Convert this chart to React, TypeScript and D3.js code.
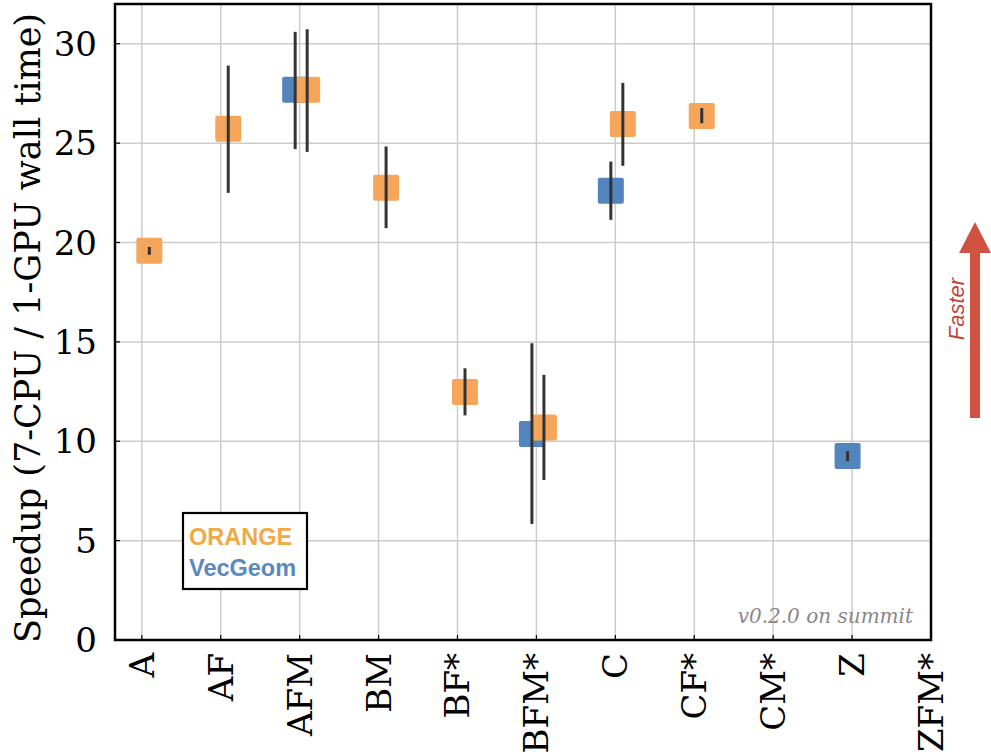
import React from "react";
import * as d3 from "d3";

const categories = ["A", "AF", "AFM", "BM", "BF*", "BFM*", "C", "CF*", "CM*", "Z", "ZFM*"];
const yTicks = [0, 5, 10, 15, 20, 25, 30];

// [category, mean, low, high]
const orangeData: [string, number, number, number][] = [
  ["A", 19.58, 19.38, 19.78],
  ["AF", 25.72, 22.5, 28.9],
  ["AFM", 27.68, 24.56, 30.73],
  ["BM", 22.76, 20.72, 24.83],
  ["BF*", 12.48, 11.3, 13.67],
  ["BFM*", 10.69, 8.05, 13.34],
  ["C", 25.96, 23.86, 28.03],
  ["CF*", 26.37, 26.0, 26.76],
];
const vecgeomData: [string, number, number, number][] = [
  ["AFM", 27.68, 24.7, 30.6],
  ["BFM*", 10.37, 5.84, 14.93],
  ["C", 22.6, 21.14, 24.07],
  ["Z", 9.26, 9.0, 9.5],
];

const ORANGE = "#f5a65b";
const BLUE = "#5384bd";
const SERIF = "'DejaVu Serif', serif";
const SANS = "'Liberation Sans', Arial, sans-serif";

export default function App() {
  const width = 991;
  const height = 756;
  const plot = { left: 115, right: 931, top: 4, bottom: 640 };

  const x = d3.scaleLinear().domain([-0.34, 10]).range([plot.left, plot.right]);
  const y = d3.scaleLinear().domain([0, 32]).range([plot.bottom, plot.top]);

  const size = 26;
  const fs = 34;

  const series = [
    { data: vecgeomData, color: BLUE, dx: -4.5 },
    { data: orangeData, color: ORANGE, dx: 7.5 },
  ];

  const arrowX = 975;
  const arrowBottom = 418;
  const arrowTop = 222;
  const headH = 31;
  const headW = 16;
  const shaftW = 5;
  const arrowPath = d3.path();
  arrowPath.moveTo(arrowX - shaftW, arrowBottom);
  arrowPath.lineTo(arrowX - shaftW, arrowTop + headH);
  arrowPath.lineTo(arrowX - headW, arrowTop + headH);
  arrowPath.lineTo(arrowX, arrowTop);
  arrowPath.lineTo(arrowX + headW, arrowTop + headH);
  arrowPath.lineTo(arrowX + shaftW, arrowTop + headH);
  arrowPath.lineTo(arrowX + shaftW, arrowBottom);
  arrowPath.closePath();

  return (
    <svg
      width={width}
      height={height}
      style={{ position: "absolute", left: 0, top: 0, background: "#fff" }}
    >
      {/* grid */}
      <g stroke="#cccccc" strokeWidth={1.5}>
        {yTicks.map((t) => (
          <line key={"gy" + t} x1={plot.left} x2={plot.right} y1={y(t)} y2={y(t)} />
        ))}
        {categories.map((c, i) => (
          <line key={"gx" + c} x1={x(i)} x2={x(i)} y1={plot.top} y2={plot.bottom} />
        ))}
      </g>

      {/* ticks inward */}
      <g stroke="#000" strokeWidth={1.2}>
        {yTicks.map((t) => (
          <line key={"ty" + t} x1={plot.left} x2={plot.left + 5} y1={y(t)} y2={y(t)} />
        ))}
        {categories.map((c, i) => (
          <line key={"tx" + c} x1={x(i)} x2={x(i)} y1={plot.bottom} y2={plot.bottom - 5} />
        ))}
      </g>

      {/* markers */}
      {series.map((s) => (
        <g key={s.color}>
          {s.data.map(([cat, mean]) => {
            const cx = x(categories.indexOf(cat)) + s.dx;
            return (
              <rect
                key={"r" + cat}
                x={cx - size / 2}
                y={y(mean) - size / 2}
                width={size}
                height={size}
                rx={2}
                fill={s.color}
              />
            );
          })}
        </g>
      ))}
      {/* error bars */}
      {series.map((s) => (
        <g key={"e" + s.color} stroke="#333" strokeWidth={3}>
          {s.data.map(([cat, , lo, hi]) => {
            const cx = x(categories.indexOf(cat)) + s.dx;
            return <line key={"e" + cat} x1={cx} x2={cx} y1={y(lo)} y2={y(hi)} />;
          })}
        </g>
      ))}

      {/* frame */}
      <rect
        x={plot.left}
        y={plot.top}
        width={plot.right - plot.left}
        height={plot.bottom - plot.top}
        fill="none"
        stroke="#000"
        strokeWidth={2.5}
      />

      {/* y tick labels */}
      <g fontFamily={SERIF} fontSize={fs} textAnchor="end">
        {yTicks.map((t) => (
          <text key={"ly" + t} x={97} y={y(t) + 12}>
            {t}
          </text>
        ))}
      </g>

      {/* x tick labels */}
      <g fontFamily={SERIF} fontSize={fs} textAnchor="end">
        {categories.map((c, i) => (
          <text
            key={"lx" + c}
            transform={`translate(${x(i) + 12},${plot.bottom + 13}) rotate(-90)`}
          >
            {c}
          </text>
        ))}
      </g>

      {/* y axis label */}
      <text
        transform={`translate(40,${(plot.top + plot.bottom) / 2 + 6}) rotate(-90)`}
        textAnchor="middle"
        fontFamily={SERIF}
        fontSize={35}
      >
        Speedup (7-CPU / 1-GPU wall time)
      </text>

      {/* legend */}
      <rect x={183} y={513} width={124} height={76} fill="#fff" stroke="#000" strokeWidth={2.2} />
      <text x={189} y={545} fontFamily={SANS} fontWeight="bold" fontSize={23.5} fill="#eeaa45">
        ORANGE
      </text>
      <text x={189} y={576} fontFamily={SANS} fontWeight="bold" fontSize={23.5} fill="#5a89c0">
        VecGeom
      </text>

      {/* annotation */}
      <text
        x={913}
        y={623}
        textAnchor="end"
        fontFamily={SERIF}
        fontStyle="italic"
        fontSize={20}
        fill="#888"
      >
        v0.2.0 on summit
      </text>

      {/* faster arrow */}
      <path d={arrowPath.toString()} fill="#d05342" />
      <text
        transform={`translate(964,309) rotate(-90)`}
        textAnchor="middle"
        fontFamily={SANS}
        fontStyle="italic"
        fontSize={22}
        fill="#c0463a"
      >
        Faster
      </text>
    </svg>
  );
}
